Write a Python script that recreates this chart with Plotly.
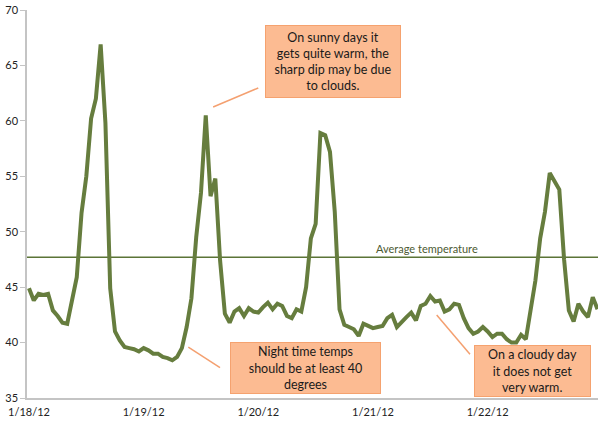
import pandas as pd
import plotly.graph_objects as go

# hourly temperature readings, 1/18/12 00:00 -> 1/22/12 23:00
start = "2012-01-18 00:00"
temps = [
    44.9, 43.8, 44.4, 44.3, 44.4, 42.9, 42.4, 41.8, 41.7, 43.7,
    45.9, 51.7, 55.0, 60.2, 62.0, 66.9, 59.8, 44.9, 41.0, 40.2,
    39.6, 39.5, 39.4, 39.2, 39.5, 39.3, 39.0, 39.0, 38.7, 38.6,
    38.4, 38.7, 39.5, 41.4, 44.0, 49.5, 53.5, 60.5, 53.2, 54.8,
    47.4, 42.6, 41.8, 42.8, 43.1, 42.4, 43.1, 42.8, 42.7, 43.2,
    43.6, 43.0, 43.5, 43.3, 42.4, 42.2, 43.0, 42.8, 45.0, 49.4,
    50.7, 58.9, 58.7, 57.2, 51.8, 43.0, 41.6, 41.4, 41.2, 40.6,
    41.7, 41.5, 41.3, 41.4, 41.5, 42.2, 42.5, 41.4, 41.9, 42.3,
    42.7, 42.0, 43.3, 43.5, 44.2, 43.7, 43.8, 42.8, 43.0, 43.5,
    43.4, 42.2, 41.3, 40.8, 41.0, 41.4, 41.0, 40.5, 40.8, 40.8,
    40.3, 40.0, 40.0, 40.7, 40.3, 43.2, 45.6, 49.4, 51.8, 55.3,
    54.5, 53.8, 47.5, 42.9, 41.9, 43.5, 42.8, 42.3, 44.1, 43.0,
]
avg_temp = 47.7
tick_days = ["2012-01-18", "2012-01-19", "2012-01-20", "2012-01-21", "2012-01-22"]
tick_labels = ["1/18/12", "1/19/12", "1/20/12", "1/21/12", "1/22/12"]

times = pd.date_range(start, periods=len(temps), freq="h")

line_col = "#667d3e"
box_fill = "#fcbb92"
box_edge = "#f5a26f"
font = "Lato"

fig = go.Figure()
fig.add_trace(go.Scatter(x=times, y=temps, mode="lines", cliponaxis=False,
                         line=dict(color=line_col, width=4), hoverinfo="x+y"))

# average line
fig.add_hline(y=avg_temp, line=dict(color="#5b7436", width=1.5), layer="below")
fig.add_annotation(x=0.793, xref="paper", y=avg_temp, yref="y", yanchor="bottom",
                   text="Average temperature", showarrow=False, yshift=0,
                   font=dict(family=font, size=11, color="#4c5a33"))

# callout boxes
notes = [
    ("On sunny days it<br>gets quite warm, the<br>sharp dip may be due<br>to clouds.",
     0.536, 0.867, 134, 71),
    ("Night time temps<br>should be at least 40<br>degrees", 0.488, 0.077, 149, 50),
    ("On a cloudy day<br>it does not get<br>very warm.", 0.885, 0.070, 115, 50),
]
for txt, px_, py_, w, h in notes:
    fig.add_annotation(x=px_, y=py_, xref="paper", yref="paper",
                       xanchor="center", yanchor="middle", text=txt,
                       showarrow=False, width=w, height=h, align="center",
                       bgcolor=box_fill, bordercolor=box_edge, borderwidth=1,
                       borderpad=0, font=dict(family=font, size=12.5, color="#1a1a1a"))

# pointer lines
pointers = [
    (0.326, 0.750, 0.405, 0.799),
    (0.2825, 0.131, 0.338, 0.078),
    (0.7175, 0.214, 0.7758, 0.113),
]
for x0, y0, x1, y1 in pointers:
    fig.add_shape(type="line", xref="paper", yref="paper", x0=x0, y0=y0, x1=x1, y1=y1,
                  line=dict(color="#f4a070", width=1.5))

fig.update_xaxes(range=[pd.Timestamp(start) - pd.Timedelta(minutes=25),
                        pd.Timestamp(start) + pd.Timedelta(hours=119, minutes=6)],
                 tickvals=tick_days, ticktext=tick_labels, showgrid=False,
                 showline=True, linecolor="#c4c4c4", linewidth=1.5, ticks="",
                 zeroline=False, automargin=False, ticklabelstandoff=3,
                 tickfont=dict(family=font, size=11, color="#222"))
fig.update_yaxes(range=[35, 70], dtick=5, showgrid=False, showline=True,
                 linecolor="#c4c4c4", linewidth=1.5, ticks="outside", ticklen=5,
                 tickcolor="#c4c4c4", zeroline=False, automargin=False,
                 tickfont=dict(family=font, size=11, color="#222"))
fig.update_layout(width=610, height=422, showlegend=False,
                  margin=dict(l=27, r=12, t=10, b=24),
                  plot_bgcolor="white", paper_bgcolor="white")

# drop the browser's default 8px body margin so the figure sits at 0,0
fig.write_html("out.html", config={"displayModeBar": False},
               post_script="document.body.style.margin='0';")
